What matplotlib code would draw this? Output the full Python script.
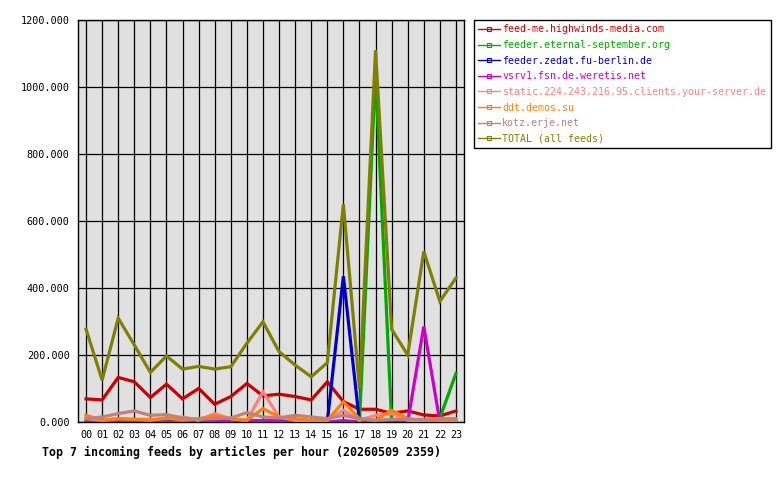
import matplotlib
matplotlib.use("Agg")
import matplotlib.pyplot as plt
from matplotlib.lines import Line2D

hours = ["%02d" % h for h in range(24)]

feeds = [
    "feed-me.highwinds-media.com",
    "feeder.eternal-september.org",
    "feeder.zedat.fu-berlin.de",
    "vsrv1.fsn.de.weretis.net",
    "static.224.243.216.95.clients.your-server.de",
    "ddt.demos.su",
    "kotz.erje.net",
    "TOTAL (all feeds)",
]
colors = ["#cc0000", "#00aa00", "#0000cc", "#cc00cc", "#ff8080", "#ff8000", "#c08080", "#808000"]

highwinds = [69, 66, 133, 120, 73, 113, 69, 100, 53, 76, 115, 78, 83, 76, 66, 120, 61, 38, 38, 26, 33, 21, 18, 33]
eternal = [0, 0, 0, 0, 0, 0, 0, 0, 0, 0, 0, 0, 0, 0, 0, 0, 0, 0, 1040, 0, 0, 0, 12, 145]
zedat = [0, 0, 0, 0, 0, 0, 0, 0, 0, 0, 0, 0, 0, 0, 0, 0, 435, 0, 0, 0, 0, 0, 0, 0]
weretis = [0, 0, 0, 0, 0, 0, 0, 0, 4, 4, 4, 4, 4, 0, 0, 0, 4, 0, 0, 0, 0, 285, 0, 0]
static = [10, 5, 10, 8, 8, 10, 15, 5, 25, 10, 5, 90, 15, 5, 5, 5, 35, 5, 20, 25, 5, 5, 10, 5]
ddt = [20, 5, 10, 8, 5, 12, 5, 10, 18, 10, 5, 40, 15, 10, 5, 5, 60, 10, 5, 35, 10, 5, 5, 5]
kotz = [10, 15, 25, 33, 20, 22, 12, 8, 10, 12, 28, 15, 12, 20, 15, 10, 20, 10, 5, 8, 8, 8, 10, 10]
total = [277, 125, 310, 230, 148, 197, 158, 166, 158, 165, 235, 299, 210, 170, 135, 177, 650, 100, 1110, 277, 200, 509, 360, 430]

series = [highwinds, eternal, zedat, weretis, static, ddt, kotz, total]

mono = "DejaVu Sans Mono"

fig = plt.figure(figsize=(7.8, 4.8), dpi=100)
ax = fig.add_axes([78 / 780, 58 / 480, 386 / 780, 402 / 480])
ax.set_facecolor("#e0e0e0")

x = list(range(24))
for vals, c in zip(series, colors):
    ax.plot(x, vals, color=c, lw=2.3, solid_joinstyle="miter", zorder=3)

ax.set_xlim(-0.5, 23.5)
ax.set_ylim(0, 1200)
ax.set_xticks(x)
ax.set_xticklabels(hours, fontfamily=mono, fontsize=7.3)
yt = list(range(0, 1201, 200))
ax.set_yticks(yt)
ax.set_yticklabels(["%.3f" % v for v in yt], fontfamily=mono, fontsize=7.3)
ax.tick_params(length=0, pad=6)
ax.grid(True, color="black", lw=0.9, zorder=1)
ax.set_axisbelow(True)
for s in ax.spines.values():
    s.set_color("black")
    s.set_linewidth(1.0)

# legend entries: thin line with a small hollow square, text in line colour
handles = [Line2D([0], [0], color=c, lw=1.0, marker="s", markersize=2.5,
                  markerfacecolor="none", markeredgewidth=0.8) for c in colors]
leg = fig.legend(handles, feeds, loc="upper left", bbox_to_anchor=(474 / 780, 1 - 20 / 480),
                 prop={"family": mono, "size": 7.1}, labelcolor="linecolor",
                 frameon=True, fancybox=False, edgecolor="black", framealpha=1,
                 borderpad=0.45, handlelength=2.2, handletextpad=0.2, labelspacing=0.57,
                 borderaxespad=0, numpoints=1)
leg.get_frame().set_linewidth(1.0)

fig.text(42 / 780, 1 - 452 / 480, "Top 7 incoming feeds by articles per hour (20260509 2359)",
         fontfamily=mono, fontsize=8.4, fontweight="bold", va="center", ha="left")

fig.savefig("out.png", dpi=100)
